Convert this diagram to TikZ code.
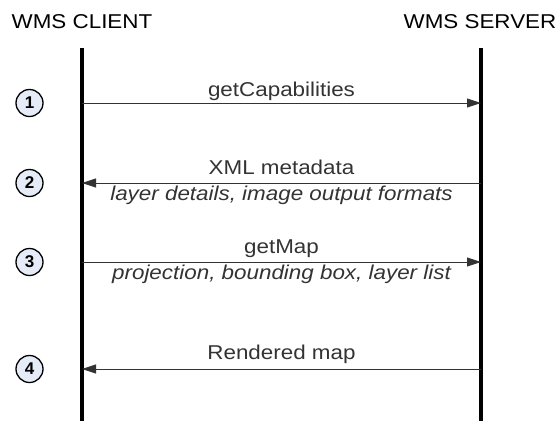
\documentclass[tikz,border=0pt]{standalone}
\usepackage{fontspec}
\usepackage{graphicx}
\setmainfont{Liberation Sans}
\usetikzlibrary{arrows.meta}

\definecolor{stepfill}{HTML}{E6ECF7}

% text in the diagram is set a little wider than the font
\newcommand{\widetext}[1]{\scalebox{1.12}[1]{#1}}

\tikzset{
  lifeline/.style={line width=3.2pt, black},
  msg/.style={line width=0.9pt, black!80, -{Triangle[length=14pt,width=9pt]}},
  stepnum/.style={draw, circle, line width=1.3pt, fill=stepfill, minimum size=27pt, inner sep=0pt, font=\fontsize{17}{20}\selectfont\bfseries},
  title/.style={anchor=base, font=\fontsize{20}{24}\selectfont},
  label/.style={anchor=base, yshift=8.5pt, font=\fontsize{20}{24}\selectfont},
  detail/.style={anchor=base, yshift=-17.5pt, font=\fontsize{20}{24}\selectfont\itshape}
}

\begin{document}
\begin{tikzpicture}[x=1pt, y=-1pt]
\useasboundingbox (0,0) rectangle (557,421);

\def\cx{82}
\def\sx{481}

% actors
\node[title] (client) at (\cx, 28) {\widetext{WMS CLIENT}};
\node[title] (server) at (480, 28) {\widetext{WMS SERVER}};

% lifelines
\coordinate (ctop) at (\cx, 48);
\coordinate (cbot) at (\cx, 421);
\coordinate (stop) at (\sx, 48);
\coordinate (sbot) at (\sx, 421);
\draw[lifeline] (ctop) -- (cbot);
\draw[lifeline] (stop) -- (sbot);

% message end points
\coordinate (c1) at (\cx, 103);
\coordinate (s1) at (\sx, 103);
\coordinate (c2) at (\cx, 183);
\coordinate (s2) at (\sx, 183);
\coordinate (c3) at (\cx, 262);
\coordinate (s3) at (\sx, 262);
\coordinate (c4) at (\cx, 369);
\coordinate (s4) at (\sx, 369);

% step numbers
\node[stepnum] (n1) at (29.5, 103) {1};
\node[stepnum] (n2) at (29.5, 183) {2};
\node[stepnum] (n3) at (29.5, 262) {3};
\node[stepnum] (n4) at (29.5, 369) {4};

% messages
\draw[msg] (c1) -- (s1) node[midway, label, yshift=-2pt] {\widetext{getCapabilities}};
\draw[msg] (s2) -- (c2) node[midway, label] {\widetext{XML metadata}}
                        node[midway, detail] {\widetext{layer details, image output formats}};
\draw[msg] (c3) -- (s3) node[midway, label] {\widetext{getMap}}
                        node[midway, detail] {\widetext{projection, bounding box, layer list}};
\draw[msg] (s4) -- (c4) node[midway, label, yshift=1pt] {\widetext{Rendered map}};

\end{tikzpicture}
\end{document}
